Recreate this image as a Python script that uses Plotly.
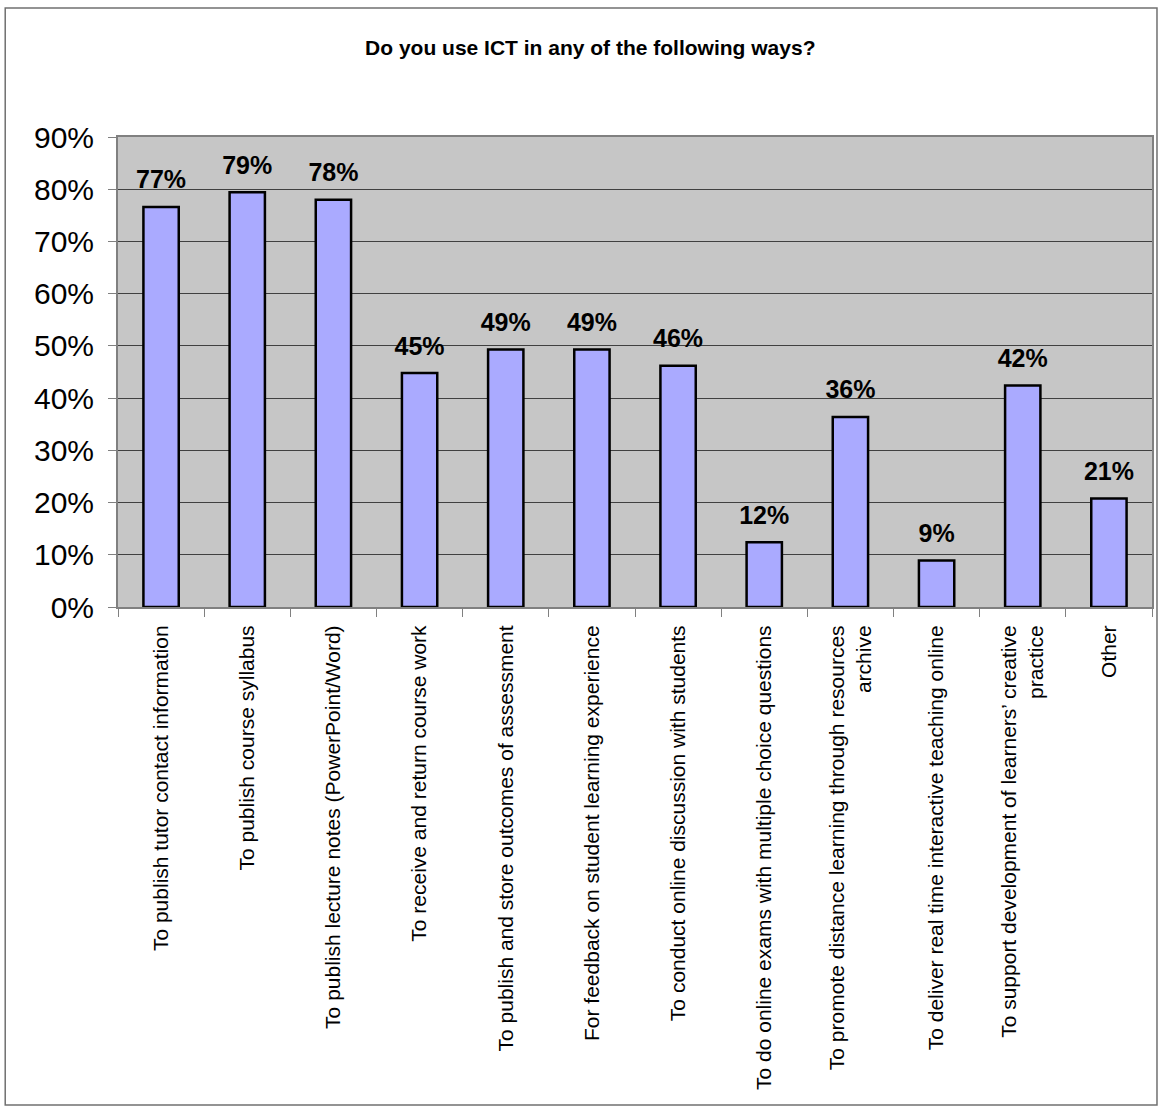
import plotly.graph_objects as go

title = "Do you use ICT in any of the following ways?"
categories = [
    "To publish tutor contact information",
    "To publish course syllabus",
    "To publish lecture notes (PowerPoint/Word)",
    "To receive and return course work",
    "To publish and store outcomes of assessment",
    "For feedback on student learning experience",
    "To conduct online discussion with students",
    "To do online exams with multiple choice questions",
    "To promote distance learning through resources<br>archive",
    "To deliver real time interactive teaching online",
    "To support development of learners’ creative<br>practice",
    "Other",
]
values = [76.6, 79.4, 78.0, 44.8, 49.3, 49.3, 46.2, 12.4, 36.4, 8.9, 42.4, 20.8]
y_ticks = [0, 10, 20, 30, 40, 50, 60, 70, 80, 90]
y_tick_labels = [f"{v}%" for v in y_ticks]

FONT = "Arial, Liberation Sans, sans-serif"

fig = go.Figure()
fig.add_trace(
    go.Bar(
        x=categories,
        y=values,
        marker=dict(color="#AAAAFF", line=dict(color="black", width=2.5)),
        hoverinfo="skip",
    )
)
# data labels
fig.add_trace(
    go.Scatter(
        x=categories,
        y=values,
        mode="markers+text",
        marker=dict(size=18, opacity=0, color="black"),
        text=[f"{v:.0f}%" for v in values],
        textposition="top center",
        textfont=dict(family=FONT, size=25, color="black", weight="bold"),
        cliponaxis=False,
        hoverinfo="skip",
    )
)

fig.update_layout(
    width=1162,
    height=1111,
    margin=dict(l=118, r=8, t=137, b=504),
    paper_bgcolor="white",
    plot_bgcolor="#C6C6C6",
    bargap=0.59,
    showlegend=False,
    title=dict(
        text=title,
        x=0.508,
        xanchor="center",
        y=1 - 48 / 1111,
        yanchor="middle",
        font=dict(family=FONT, size=21, color="black", weight="bold"),
    ),
    font=dict(family=FONT, color="black"),
)

fig.update_yaxes(
    range=[0, 90],
    tickvals=y_ticks,
    ticktext=y_tick_labels,
    tickfont=dict(family=FONT, size=30, color="black"),
    ticklabelstandoff=8,
    showgrid=True,
    gridcolor="#404040",
    gridwidth=1,
    showline=True,
    linecolor="#808080",
    linewidth=2,
    ticks="outside",
    ticklen=8,
    tickcolor="#808080",
    mirror=True,
    zeroline=False,
)

fig.update_xaxes(
    range=[-0.5, len(categories) - 0.5],
    tickangle=-90,
    tickfont=dict(family=FONT, size=21, color="black"),
    ticklabelstandoff=8,
    showline=True,
    linecolor="#808080",
    linewidth=2,
    mirror=True,
    ticks="outside",
    tickson="boundaries",
    ticklen=8,
    tickcolor="#808080",
    showgrid=False,
)

# outer frame
fig.add_shape(
    type="rect",
    xref="paper", yref="paper",
    x0=-113 / 1036, x1=1 + 5 / 1036,
    y0=-498 / 470, y1=1 + 129 / 470,
    line=dict(color="#707070", width=1.5),
    fillcolor="rgba(0,0,0,0)",
    layer="below",
)

fig.write_html("out.html")
